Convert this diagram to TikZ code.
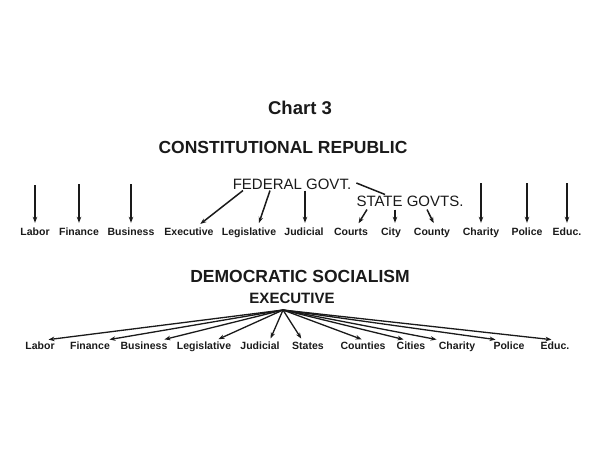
\documentclass[tikz,border=0pt]{standalone}
\usepackage{fontspec}
\setmainfont{Liberation Sans}
\usetikzlibrary{arrows.meta}
\definecolor{ink}{HTML}{1A1A1A}
\begin{document}
\begin{tikzpicture}[x=1pt,y=-1pt,
  every node/.style={text=ink},
  lbl/.style={font=\bfseries\fontsize{10.5}{12}\selectfont, inner sep=1pt, text height=8pt, text depth=2pt, anchor=base},
  head/.style={font=\fontsize{15}{17}\selectfont, inner sep=1pt},
  title/.style={font=\bfseries\fontsize{17.5}{20}\selectfont, inner sep=1pt},
  arr/.style={draw=ink, -{Stealth[length=6pt,width=4.5pt]}, line width=1.5pt, shorten >=3pt},
  vline/.style={draw=ink, -{Stealth[length=6pt,width=4.5pt]}, line width=2pt, shorten >=3pt},
  plain/.style={draw=ink, line width=1.5pt}]
\useasboundingbox[fill=white] (0,0) rectangle (600,450);

% titles
\node[font=\bfseries\fontsize{18.5}{21}\selectfont, inner sep=1pt] (chart) at (300,108) {Chart 3};
\node[title] (cr) at (283,147) {CONSTITUTIONAL REPUBLIC};

% upper hierarchy
\node[head] (fed) at (292,184) {FEDERAL GOVT.};
\node[head] (state) at (410,201) {STATE GOVTS.};

% upper labels
\node[lbl] (u1) at (35,235) {Labor};
\node[lbl] (u2) at (79,235) {Finance};
\node[lbl] (u3) at (131,235) {Business};
\node[lbl] (u4) at (189,235) {Executive};
\node[lbl] (u5) at (249,235) {Legislative};
\node[lbl] (u6) at (304,235) {Judicial};
\node[lbl] (u7) at (351,235) {Courts};
\node[lbl] (u8) at (391,235) {City};
\node[lbl] (u9) at (432,235) {County};
\node[lbl] (u10) at (481,235) {Charity};
\node[lbl] (u11) at (527,235) {Police};
\node[lbl] (u12) at (567,235) {Educ.};

% free starts of the vertical arrows
\coordinate (s1) at (35,185);
\coordinate (s2) at (79,184);
\coordinate (s3) at (131,184);
\coordinate (s10) at (481,183);
\coordinate (s11) at (527,183);
\coordinate (s12) at (567,183);
\foreach \i in {1,2,3,10,11,12} \draw[vline] (s\i) -- (u\i.north);

% federal to state
\draw[plain] ([xshift=4pt,yshift=1pt]fed.east) -- ([xshift=-25pt]state.north);

% federal branches
\draw[arr] ([xshift=-49pt]fed.south) -- ([xshift=9pt]u4.north);
\draw[arr] ([xshift=-22pt]fed.south) -- ([xshift=9pt]u5.north);
\draw[arr] ([xshift=13pt]fed.south) -- ([xshift=1pt]u6.north);

% state branches
\draw[arr] ([xshift=-43pt,yshift=-2pt]state.south) -- ([xshift=6pt]u7.north);
\draw[arr] ([xshift=-15pt,yshift=-2pt]state.south) -- ([xshift=4pt]u8.north);
\draw[arr] ([xshift=17pt,yshift=-2pt]state.south) -- ([xshift=3pt]u9.north);

% lower part
\node[title] (ds) at (300,276) {DEMOCRATIC SOCIALISM};
\node[font=\bfseries\fontsize{15}{17}\selectfont, inner sep=1pt] (exec) at (292,298) {EXECUTIVE};
\coordinate (hub) at (283,310);

\node[lbl] (d1) at (40,349) {Labor};
\node[lbl] (d2) at (90,349) {Finance};
\node[lbl] (d3) at (144,349) {Business};
\node[lbl] (d4) at (204,349) {Legislative};
\node[lbl] (d5) at (260,349) {Judicial};
\node[lbl] (d6) at (308,349) {States};
\node[lbl] (d7) at (363,349) {Counties};
\node[lbl] (d8) at (411,349) {Cities};
\node[lbl] (d9) at (457,349) {Charity};
\node[lbl] (d10) at (509,349) {Police};
\node[lbl] (d11) at (555,349) {Educ.};

\foreach \i/\dx in {1/7,2/18,3/19,4/13,5/10,6/-6,7/0,8/-6,9/-19,10/-12,11/-2}
  \draw[arr, line width=1.3pt, shorten >=1.5pt] (hub) -- ([xshift=\dx pt]d\i.north);
\end{tikzpicture}
\end{document}
